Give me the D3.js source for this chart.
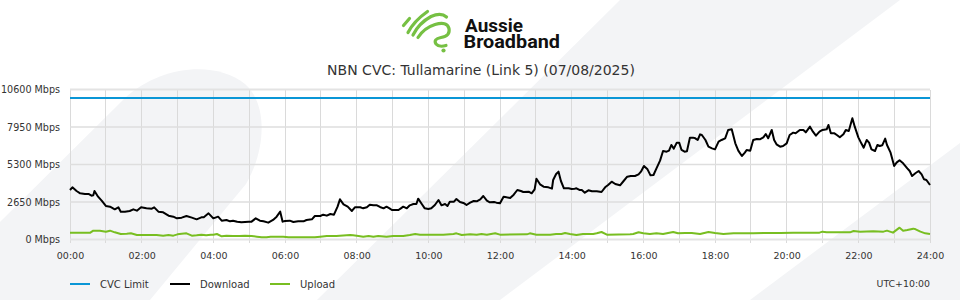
<!DOCTYPE html>
<html><head><meta charset="utf-8">
<script src="https://cdn.jsdelivr.net/npm/d3@7"></script>
<style>html,body{margin:0;padding:0;background:#fff;}svg{display:block;}</style>
</head><body>
<svg id="c" width="960" height="300"></svg>
<script>
// ---- data ----
const chartTitle = "NBN CVC: Tullamarine (Link 5) (07/08/2025)";
const yTicks = [0, 2650, 5300, 7950, 10600];
const xTickMinutes = [0,120,240,360,480,600,720,840,960,1080,1200,1320,1440];
const xTickLabels = ["00:00","02:00","04:00","06:00","08:00","10:00","12:00","14:00","16:00","18:00","20:00","22:00","24:00"];
const cvcLimit = 10000;
const seriesNames = ["CVC Limit","Download","Upload"];
const seriesColors = ["#0a96d6","#000000","#78be21"];

const dlMin = [0,4,11,17,25,31,36,39,41,47,53,60,67,75,81,85,92,100,106,112,119,128,137,141,148,156,165,173,179,187,195,204,212,220,224,232,240,248,254,262,268,273,280,287,299,304,311,318,324,332,340,346,352,356,360,368,374,382,391,396,405,410,419,
424,430,436,442,448,452,458,465,472,477,486,491,497,502,508,514,519,525,530,535,539,544,550,554,558,564,569,575,580,583,589,594,600,605,611,617,622,628,632,636,643,647,653,660,664,670,676,681,687,692,698,703,710,714,720,726,731,737,743,749,755,759,768,773,778,781,787,793,801,807,809,814,818,822,827,835,840,845,848,853,857,862,868,874,882,890,896,901,907,913,921,
927,933,939,946,952,956,961,967,972,977,982,988,993,999,1003,1007,1011,1016,1020,1024,1029,1033,1038,1043,1047,1051,1055,1058,1064,1069,1075,1080,1086,1091,1097,1102,1108,1114,1119,1125,1130,1133,1139,1144,1150,1155,1161,1165,1169,1175,1179,1183,1189,1194,1200,1205,1211,1215,1222,1228,1232,1239,1244,1249,1255,1260,1267,1270,1274,1280,1284,1289,1295,1299,1304,1310,1314,1320,1325,1329,1334,1338,1342,1348,1352,1356,1360,1365,1368,1374,1380,1384,1389,1395,1402,1406,1410,1416,1421,1426,1430,1434,1440];
const dlMbps = [3499,3687,3428,3263,3216,3216,3098,3122,3428,3027,2745,2368,2321,2132,2274,1967,1967,2015,2132,2038,2274,2203,2180,2274,1967,1920,1685,1614,1496,1543,1661,1543,1426,1567,1567,1850,1496,1614,1331,1379,1284,1331,1261,1214,1261,1261,1496,1331,1284,1190,1379,1614,1967,1261,1308,1331,1237,1284,1284,1379,1426,1661,1661,
1755,1685,1803,1755,2321,2839,2486,2321,2015,2274,2274,2203,2274,2462,2415,2415,2297,2203,2321,2203,2085,2085,2085,2203,2321,2203,2415,2509,2509,2886,2509,2203,2156,2203,2439,2792,2415,2509,2368,2674,2674,2863,2651,2557,2439,2604,2721,2698,2839,3074,2745,2627,2651,2604,2557,3027,2980,2933,3169,3499,3428,3357,3381,3263,3546,4299,3899,3734,3687,3593,4205,4629,4794,4134,3617,3617,3570,3593,3617,3499,3499,3310,3475,3405,3405,3357,3687,3852,4087,3923,3829,
4134,4441,4488,4488,4606,4794,5195,4959,4535,4559,5030,5572,6255,6207,6278,6679,6420,6844,6844,6325,6207,6231,7197,7197,7150,7032,7433,7386,7032,6561,6443,6372,6914,7032,7150,7739,7786,6796,6278,5901,6137,6325,6278,7032,7103,7079,7220,7456,7150,7739,7032,6726,6561,6608,6796,7386,7550,7503,7739,7739,7574,7974,7621,7338,7621,7739,7786,8092,7503,7503,7386,7220,7433,7739,7668,8563,7974,7220,6796,6490,7032,6844,6372,6255,6679,6608,6655,7126,6679,6137,5195,5430,5595,5383,5030,4841,4488,4700,4841,4606,4252,4205,3852];

const ulMin = [0,34,39,50,60,67,75,85,95,102,112,119,145,156,165,173,180,187,195,204,212,220,228,236,240,246,254,262,273,284,293,304,313,321,329,336,357,366,390,410,419,
430,446,469,474,483,491,500,508,516,530,541,558,569,578,586,625,642,647,656,670,681,689,698,712,720,765,770,781,804,814,823,829,837,848,859,876,882,890,899,938,
943,952,960,971,982,993,1010,1018,1030,1041,1055,1069,1080,1094,1111,1144,1166,1189,1211,1255,1260,1267,1306,1312,1323,1345,1362,1368,1378,1389,1395,1402,1412,1416,1424,1432,1440];
const ulMbps = [483,483,625,625,554,625,507,389,412,436,318,318,318,271,318,271,365,412,436,271,295,342,295,342,342,389,224,271,248,248,271,248,200,153,153,200,200,153,153,153,200,
248,248,318,295,248,200,248,200,248,200,248,248,318,389,342,342,389,436,318,365,342,389,342,436,342,365,436,342,342,389,389,460,389,318,389,389,436,530,342,365,
389,507,436,389,436,389,530,436,460,460,389,530,460,389,436,436,460,460,483,483,554,507,507,601,554,578,554,625,483,837,625,672,766,719,554,436,389];

// ---- layout ----
const svg = d3.select("#c");
const W = 960, H = 300;
const L = 70, R = 930, T = 89.5, B = 239.5;
const FONT = "'DejaVu Sans', sans-serif";

// background watermark shapes
const bg = svg.append("g");
bg.append("rect").attr("width", W).attr("height", H).attr("fill", "#fff");
const grey = "#f3f4f6";
bg.append("path").attr("fill", grey)
  .attr("d", "M0,222 L125,98 C160,66 215,60 245,84 C268,104 266,150 246,184 L150,300 L0,300 Z");
bg.append("path").attr("fill", grey)
  .attr("d", "M317,300 L620,0 L900,0 L500,300 Z");
bg.append("path").attr("fill", grey)
  .attr("d", "M750,300 L960,143 L960,300 Z");

// logo
const logo = svg.append("g").attr("fill", "none").attr("stroke", "#76c043")
  .attr("stroke-width", 3.2).attr("stroke-linecap", "round").attr("stroke-linejoin", "round");
logo.append("path").attr("d", "M403.5,25.5 L409.5,18.5");
logo.append("path").attr("d", "M408,32.5 Q414,21 427.5,11.5");
logo.append("path").attr("d", "M413,35 Q419,23 431,16.5 Q441,12 446.5,17");
logo.append("path").attr("d", "M418,37.5 Q424,28 435,24.5 Q447,21 449,28.5 Q450.5,36 441,37.5 Q433,39 436,44 Q439,47.5 446,45.5");
svg.append("circle").attr("cx", 443.5).attr("cy", 50.5).attr("r", 2.1).attr("fill", "#76c043");
const logoText = svg.append("text").attr("font-family", "Roboto, sans-serif")
  .attr("font-weight", 700).attr("font-size", 18.5).attr("fill", "#111");
logoText.append("tspan").attr("x", 465).attr("y", 31.7)
  .attr("textLength", 58).attr("lengthAdjust", "spacingAndGlyphs").text("Aussie");
logoText.append("tspan").attr("x", 463.5).attr("y", 47.7)
  .attr("textLength", 96.5).attr("lengthAdjust", "spacingAndGlyphs").text("Broadband");

// title
svg.append("text").attr("x", 481).attr("y", 70).attr("dy", "0.35em")
  .attr("text-anchor", "middle").attr("font-family", FONT).attr("font-size", 14)
  .attr("fill", "#333").text(chartTitle);

// scales
const x = d3.scaleLinear().domain([0, 1440]).range([L, R]);
const y = d3.scaleLinear().domain([0, 10600]).range([B, T]);

// vertical grid (hourly)
const hours = d3.range(0, 1441, 60);
svg.append("g").selectAll("line").data(hours).join("line")
  .attr("x1", d => x(d)).attr("x2", d => x(d))
  .attr("y1", T).attr("y2", B + 3)
  .attr("stroke", "#dadada").attr("stroke-width", 1).attr("shape-rendering", "crispEdges");

// horizontal grid
svg.append("g").selectAll("line").data(yTicks).join("line")
  .attr("x1", L).attr("x2", R)
  .attr("y1", d => y(d)).attr("y2", d => y(d))
  .attr("stroke", d => (d === 0 || d === 10600) ? "#e3e3e3" : "#dedede")
  .attr("stroke-width", d => (d === 0 || d === 10600) ? 2.2 : 1.3);

// y axis labels
const yAxis = d3.axisLeft(y).tickValues(yTicks).tickSize(0).tickPadding(0)
  .tickFormat(d => d + " Mbps");
const gy = svg.append("g").attr("transform", `translate(${L - 10},0)`).call(yAxis);
gy.select(".domain").remove();
gy.selectAll("text").attr("font-family", FONT).attr("font-size", 9.6).attr("fill", "#333");

// x axis labels
const xAxis = d3.axisBottom(x).tickValues(xTickMinutes).tickSize(0).tickPadding(0)
  .tickFormat((d, i) => xTickLabels[i]);
const gx = svg.append("g").attr("transform", `translate(0,${B + 12.5})`).call(xAxis);
gx.select(".domain").remove();
gx.selectAll("text").attr("font-family", FONT).attr("font-size", 9.5).attr("fill", "#333");

// series
const line = d3.line().x(d => x(d[0])).y(d => y(d[1]));
const ul = ulMin.map((m, i) => [m, ulMbps[i]]);
const dl = dlMin.map((m, i) => [m, dlMbps[i]]);
svg.append("path").datum(ul).attr("d", line).attr("fill", "none")
  .attr("stroke", seriesColors[2]).attr("stroke-width", 2).attr("stroke-linejoin", "round");
svg.append("path").datum(dl).attr("d", line).attr("fill", "none")
  .attr("stroke", seriesColors[1]).attr("stroke-width", 2).attr("stroke-linejoin", "round");
svg.append("path").datum([[0, cvcLimit], [1440, cvcLimit]]).attr("d", line).attr("fill", "none")
  .attr("stroke", seriesColors[0]).attr("stroke-width", 2);

// legend
const legX = [70, 170, 270];
const lg = svg.append("g").selectAll("g").data(seriesNames).join("g")
  .attr("transform", (d, i) => `translate(${legX[i]},284)`);
lg.append("line").attr("x1", 0).attr("x2", 20).attr("y1", 0).attr("y2", 0)
  .attr("stroke", (d, i) => seriesColors[i]).attr("stroke-width", 2);
lg.append("text").attr("x", 30).attr("dy", "0.35em").attr("font-family", FONT)
  .attr("font-size", 10).attr("fill", "#333").text(d => d);

svg.append("text").attr("x", R).attr("y", 284).attr("dy", "0.35em").attr("text-anchor", "end")
  .attr("font-family", FONT).attr("font-size", 9.4).attr("fill", "#333").text("UTC+10:00");
</script>
</body></html>
